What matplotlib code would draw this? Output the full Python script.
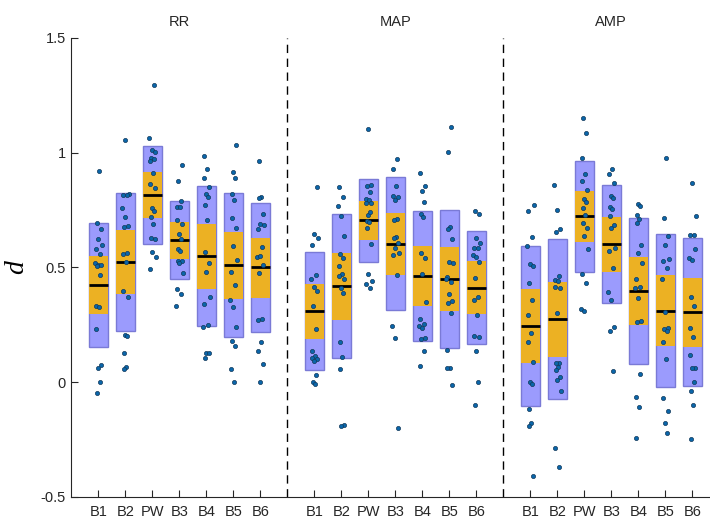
import numpy as np
import matplotlib
matplotlib.use('Agg')
import matplotlib.pyplot as plt
from matplotlib.patches import Rectangle

plt.rcParams['font.family'] = ['Liberation Sans', 'DejaVu Sans']

# measures, conditions
measures = ['RR', 'MAP', 'AMP']
conds = ['B1', 'B2', 'PW', 'B3', 'B4', 'B5', 'B6']

# per-subject effect sizes d, one list per condition
rr = [
    [0.922, 0.693, 0.668, 0.624, 0.598, 0.581, 0.558, 0.521, 0.513, 0.510, 0.508,
     0.469, 0.332, 0.328, 0.232, 0.075, 0.061, 0.003, -0.048],
    [1.056, 0.822, 0.818, 0.816, 0.758, 0.722, 0.681, 0.678, 0.564, 0.560, 0.523,
     0.399, 0.372, 0.204, 0.200, 0.129, 0.068, 0.059],
    [1.295, 1.063, 1.012, 1.002, 0.979, 0.971, 0.963, 0.913, 0.865, 0.845, 0.758,
     0.748, 0.722, 0.690, 0.630, 0.623, 0.568, 0.547, 0.494],
    [0.948, 0.876, 0.788, 0.765, 0.765, 0.707, 0.691, 0.646, 0.623, 0.579, 0.572,
     0.527, 0.527, 0.521, 0.475, 0.408, 0.383, 0.332],
    [0.986, 0.931, 0.892, 0.852, 0.822, 0.809, 0.773, 0.709, 0.569, 0.518, 0.482,
     0.373, 0.340, 0.251, 0.242, 0.129, 0.126, 0.107],
    [1.033, 0.918, 0.892, 0.822, 0.796, 0.716, 0.674, 0.594, 0.531, 0.481, 0.424,
     0.359, 0.330, 0.242, 0.181, 0.160, 0.059, 0.003],
    [0.964, 0.806, 0.801, 0.732, 0.690, 0.685, 0.669, 0.591, 0.547, 0.552, 0.510,
     0.478, 0.276, 0.271, 0.177, 0.138, 0.080, 0.000],
]
mapd = [
    [0.851, 0.648, 0.627, 0.597, 0.466, 0.449, 0.417, 0.399, 0.334, 0.231, 0.134,
     0.116, 0.107, 0.100, 0.093, 0.032, 0.001, -0.009],
    [0.849, 0.809, 0.770, 0.725, 0.639, 0.558, 0.542, 0.507, 0.472, 0.465, 0.452,
     0.411, 0.389, 0.177, 0.112, 0.058, -0.186, -0.192],
    [1.102, 0.860, 0.854, 0.829, 0.800, 0.794, 0.783, 0.780, 0.729, 0.741, 0.704,
     0.698, 0.672, 0.604, 0.473, 0.440, 0.427, 0.411],
    [0.974, 0.928, 0.855, 0.812, 0.809, 0.794, 0.712, 0.707, 0.635, 0.627, 0.608,
     0.585, 0.563, 0.555, 0.469, 0.245, 0.194, -0.198],
    [0.913, 0.857, 0.835, 0.786, 0.732, 0.722, 0.565, 0.543, 0.470, 0.348, 0.276,
     0.253, 0.247, 0.238, 0.192, 0.189, 0.134, 0.070],
    [1.110, 1.005, 0.677, 0.667, 0.624, 0.523, 0.521, 0.459, 0.436, 0.449, 0.383,
     0.354, 0.347, 0.303, 0.141, 0.064, 0.062, -0.010],
    [0.748, 0.735, 0.630, 0.606, 0.585, 0.585, 0.555, 0.545, 0.524, 0.455, 0.373,
     0.359, 0.293, 0.202, 0.199, 0.134, 0.001, -0.097],
]
amp = [
    [0.774, 0.744, 0.635, 0.595, 0.516, 0.505, 0.434, 0.357, 0.295, 0.213, 0.174,
     0.089, 0.003, -0.007, -0.115, -0.179, -0.190, -0.407],
    [0.860, 0.751, 0.667, 0.656, 0.465, 0.446, 0.439, 0.415, 0.410, 0.303, 0.086,
     0.083, 0.068, 0.054, 0.025, 0.010, -0.036, -0.285, -0.368],
    [1.150, 1.085, 0.979, 0.909, 0.876, 0.838, 0.797, 0.787, 0.761, 0.729, 0.693,
     0.674, 0.638, 0.582, 0.473, 0.431, 0.317, 0.312],
    [0.928, 0.908, 0.870, 0.812, 0.802, 0.763, 0.754, 0.725, 0.686, 0.674, 0.584,
     0.574, 0.497, 0.393, 0.357, 0.241, 0.225, 0.049],
    [0.775, 0.768, 0.729, 0.713, 0.696, 0.598, 0.564, 0.521, 0.450, 0.414, 0.410,
     0.369, 0.267, 0.261, 0.038, -0.063, -0.110, -0.241],
    [0.975, 0.715, 0.638, 0.597, 0.539, 0.529, 0.497, 0.450, 0.306, 0.235, 0.232,
     0.225, 0.177, 0.100, -0.067, -0.126, -0.179, -0.219],
    [0.870, 0.726, 0.640, 0.640, 0.540, 0.533, 0.581, 0.373, 0.333, 0.238, 0.197,
     0.119, 0.064, 0.060, 0.002, -0.036, -0.100, -0.246],
]

# group summaries: mean, 95% CI bounds (orange), +/- SD bounds (blue)
means = [0.424, 0.523, 0.816, 0.621, 0.550, 0.511, 0.500,
         0.311, 0.421, 0.706, 0.604, 0.465, 0.450, 0.412,
         0.245, 0.276, 0.725, 0.603, 0.398, 0.312, 0.306]
ci_lo = [0.299, 0.386, 0.717, 0.537, 0.407, 0.362, 0.367,
         0.189, 0.273, 0.621, 0.467, 0.334, 0.311, 0.299,
         0.083, 0.110, 0.613, 0.482, 0.248, 0.160, 0.155]
ci_hi = [0.552, 0.663, 0.918, 0.698, 0.690, 0.656, 0.629,
         0.430, 0.562, 0.790, 0.736, 0.594, 0.588, 0.527,
         0.405, 0.437, 0.834, 0.720, 0.546, 0.468, 0.455]
sd_lo = [0.152, 0.224, 0.604, 0.449, 0.244, 0.197, 0.218,
         0.052, 0.104, 0.523, 0.314, 0.181, 0.148, 0.165,
         -0.103, -0.074, 0.482, 0.344, 0.078, -0.022, -0.015]
sd_hi = [0.693, 0.823, 1.031, 0.791, 0.855, 0.826, 0.780,
         0.568, 0.732, 0.884, 0.893, 0.748, 0.749, 0.658,
         0.595, 0.626, 0.963, 0.858, 0.715, 0.645, 0.630]

# fixed horizontal scatter of the dots around each box centre
JITTER = [0.02, -0.05, 0.09, -0.02, 0.12, -0.08, 0.05, -0.11, 0.00, 0.10,
          -0.04, 0.07, -0.07, 0.03, -0.10, 0.11, -0.01, 0.06, -0.05]

BOX_W = 0.7
SD_COL = '#9b9bfd'
SD_EDGE = '#7a7ad6'
CI_COL = '#ecb123'
DOT_COL = '#0a66aa'
DOT_EDGE = '#123858'
AX_COL = '#262626'

fig = plt.figure(figsize=(7.1, 5.19), dpi=100)
ax = fig.add_axes([0.1004, 0.0424, 0.9127, 0.8844])

groups = [rr, mapd, amp]
positions = []
for g in range(3):
    for c in range(7):
        positions.append(g * 8 + c + 1)
all_data = [d for grp in groups for d in grp]

for i, (x, vals) in enumerate(zip(positions, all_data)):
    ax.add_patch(Rectangle((x - BOX_W / 2, sd_lo[i]), BOX_W, sd_hi[i] - sd_lo[i],
                           facecolor=SD_COL, edgecolor=SD_EDGE, linewidth=1.0, zorder=1))
    ax.add_patch(Rectangle((x - BOX_W / 2, ci_lo[i]), BOX_W, ci_hi[i] - ci_lo[i],
                           facecolor=CI_COL, edgecolor='none', zorder=2))
    ax.plot([x - BOX_W / 2, x + BOX_W / 2], [means[i], means[i]],
            color='black', linewidth=2, solid_capstyle='butt', zorder=3)
    xs = [x + JITTER[(k + i * 3) % len(JITTER)] for k in range(len(vals))]
    ax.scatter(xs, vals, s=9, facecolor=DOT_COL, edgecolor=DOT_EDGE,
               linewidths=0.5, zorder=4)

# separators between measures
for xs in (8, 16):
    ax.axvline(xs, color='black', linestyle=(0, (6, 4)), linewidth=1, zorder=0)

for g, name in enumerate(measures):
    ax.text(g * 8 + 4, 1.54, name, ha='center', va='bottom', fontsize=10.5,
            color=AX_COL)

ax.set_xlim(0, 24)
ax.set_ylim(-0.5, 1.5)
ax.set_xticks(positions)
ax.set_xticklabels(conds * 3)
ax.set_yticks([-0.5, 0, 0.5, 1, 1.5])
ax.set_yticklabels(['-0.5', '0', '0.5', '1', '1.5'])
ax.tick_params(direction='in', length=5, width=0.8, colors=AX_COL,
               labelsize=10.5, pad=4)
ax.tick_params(axis='x', pad=6)
for side in ('top', 'right'):
    ax.spines[side].set_visible(False)
for side in ('left', 'bottom'):
    ax.spines[side].set_color(AX_COL)
    ax.spines[side].set_linewidth(0.8)

ax.set_ylabel('d', fontsize=20, family='Liberation Serif', style='italic',
              rotation=90, labelpad=8, color='black')

fig.savefig('out.png', dpi=100)
